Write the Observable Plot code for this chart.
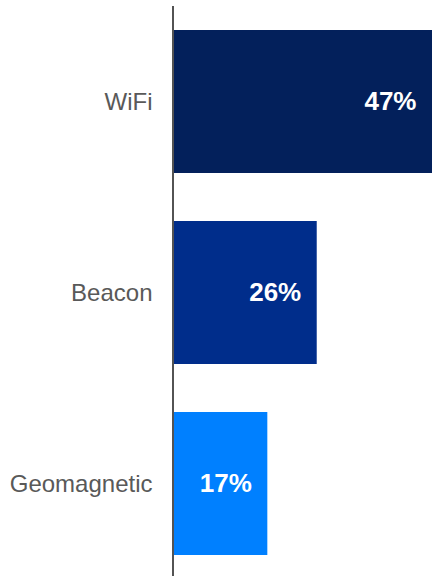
<!DOCTYPE html>
<html>
<head>
<meta charset="utf-8">
<script src="https://cdn.jsdelivr.net/npm/d3@7"></script>
<script src="https://cdn.jsdelivr.net/npm/@observablehq/plot@0.6"></script>
<style>
  html, body { margin: 0; padding: 0; background: #fff; }
  #chart svg { display: block; }
</style>
</head>
<body>
<div id="chart"></div>
<script>
const categories = ["WiFi", "Beacon", "Geomagnetic"];
const values = [47, 26, 17];
const valueLabels = ["47%", "26%", "17%"];
const colors = ["#03205B", "#002D8B", "#0080FF"];

const data = categories.map((c, i) => ({category: c, value: values[i], label: valueLabels[i], color: colors[i]}));

const chart = Plot.plot({
  width: 432,
  height: 576,
  marginLeft: 174,
  marginRight: 0,
  marginTop: 6,
  marginBottom: 0,
  style: {fontFamily: "'Liberation Sans', Arial, sans-serif", background: "#fff"},
  x: {domain: [0, 47], axis: null},
  y: {domain: categories, paddingInner: 0.252, paddingOuter: 0.116, align: 0.53, label: null},
  marks: [
    Plot.barX(data, {x: "value", y: "category", fill: "color"}),
    Plot.text(data, {x: "value", y: "category", text: "label", textAnchor: "end", dx: -16, fill: "#fff", fontWeight: "bold", fontSize: 26}),
    Plot.axisY({tickSize: 0, tickPadding: 22, fontSize: 24, color: "#595959", label: null}),
    Plot.ruleX([0], {stroke: "#1a1a1a", strokeWidth: 1.5, dx: -1.5})
  ]
});
document.getElementById("chart").appendChild(chart);
</script>
</body>
</html>
